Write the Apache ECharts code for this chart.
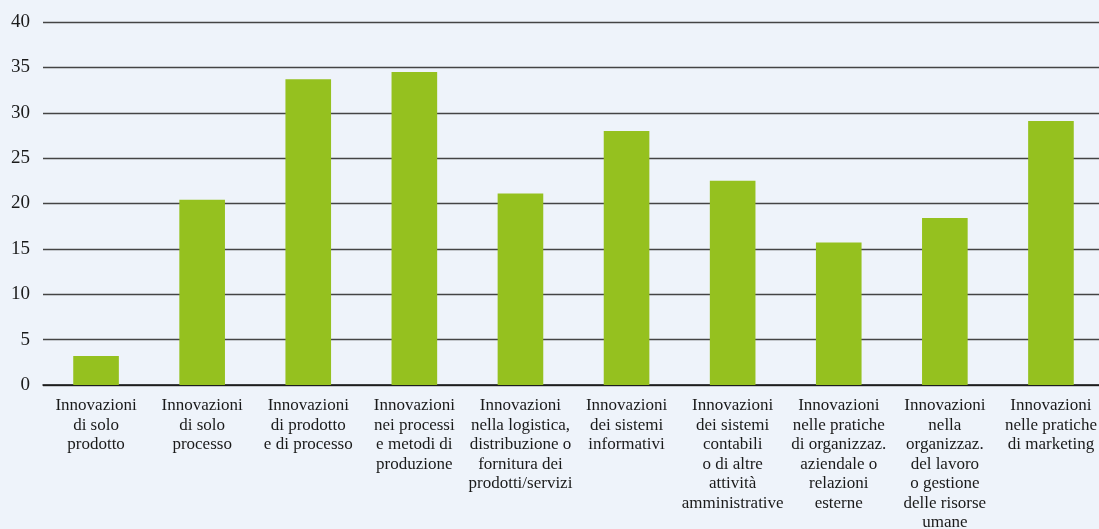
<!DOCTYPE html>
<html><head><meta charset="utf-8">
<script src="https://cdn.jsdelivr.net/npm/echarts@6/dist/echarts.min.js"></script>
<style>html,body{margin:0;padding:0;background:#eef3fa;}#c{width:1099px;height:529px;}</style>
</head><body><div id="c"></div>
<script>
const categories = [
  "Innovazioni\ndi solo\nprodotto",
  "Innovazioni\ndi solo\nprocesso",
  "Innovazioni\ndi prodotto\ne di processo",
  "Innovazioni\nnei processi\ne metodi di\nproduzione",
  "Innovazioni\nnella logistica,\ndistribuzione o\nfornitura dei\nprodotti/servizi",
  "Innovazioni\ndei sistemi\ninformativi",
  "Innovazioni\ndei sistemi\ncontabili\no di altre\nattività\namministrative",
  "Innovazioni\nnelle pratiche\ndi organizzaz.\naziendale o\nrelazioni\nesterne",
  "Innovazioni\nnella\norganizzaz.\ndel lavoro\no gestione\ndelle risorse\numane",
  "Innovazioni\nnelle pratiche\ndi marketing"
];
const values = [3.2, 20.4, 33.7, 34.5, 21.1, 28.0, 22.5, 15.7, 18.4, 29.1];

const chart = echarts.init(document.getElementById('c'));
const font = '"Liberation Serif", "DejaVu Serif", serif';
chart.setOption({
  backgroundColor: '#eef3fa',
  animation: false,
  grid: {left: 43, right: -5, top: 22, bottom: 144, containLabel: false, outerBoundsMode: 'none'},
  xAxis: {
    type: 'category', data: categories,
    axisLine: {lineStyle: {color: '#111', width: 1.5}},
    axisTick: {show: false},
    axisLabel: {interval: 0, color: '#1a1a1a', fontFamily: font, fontSize: 17, lineHeight: 19.5, margin: 11}
  },
  yAxis: {
    type: 'value', min: 0, max: 40, interval: 5,
    axisLine: {show: false}, axisTick: {show: false},
    axisLabel: {color: '#1a1a1a', fontFamily: font, fontSize: 19, margin: 13},
    splitLine: {lineStyle: {color: '#444', width: 1.3}}
  },
  series: [{
    type: 'bar', data: values, barWidth: '43%',
    itemStyle: {color: '#95c11f'}
  }]
});
</script></body></html>
